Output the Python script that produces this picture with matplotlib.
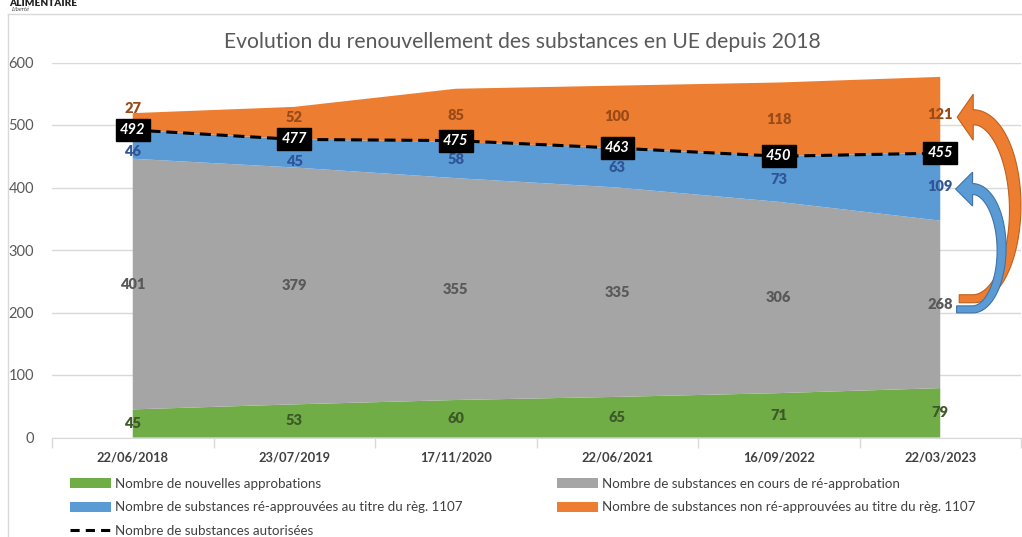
import numpy as np
import matplotlib
matplotlib.use('Agg')
import matplotlib.pyplot as plt
from matplotlib import font_manager
from matplotlib.patches import Patch, Polygon
from matplotlib.lines import Line2D
from matplotlib.transforms import IdentityTransform

# --- data -----------------------------------------------------------------
dates = ['22/06/2018', '23/07/2019', '17/11/2020', '22/06/2021', '16/09/2022', '22/03/2023']
nouvelles = [45, 53, 60, 65, 71, 79]
en_cours = [401, 379, 355, 335, 306, 268]
reapprouvees = [46, 45, 58, 63, 73, 109]
non_reapprouvees = [27, 52, 85, 100, 118, 121]
autorisees = [492, 477, 475, 463, 450, 455]

series_labels = ['Nombre de nouvelles approbations',
                 'Nombre de substances en cours de ré-approbation',
                 'Nombre de substances ré-approuvées au titre du règ. 1107',
                 'Nombre de substances non ré-approuvées au titre du règ. 1107']
line_label = 'Nombre de substances autorisées'
title = 'Evolution du renouvellement des substances en UE depuis 2018'

colors = ['#70ad47', '#a5a5a5', '#5b9bd5', '#ed7d31']
label_colors = ['#3d5a26', '#595959', '#2f5597', '#9a4a17']

# narrow Calibri-like face if there is one
installed = {f.name for f in font_manager.fontManager.ttflist}
main_font = next((f for f in ['Liberation Sans Narrow', 'Lato', 'Open Sans'] if f in installed), 'DejaVu Sans')
plt.rcParams['font.family'] = [main_font, 'DejaVu Sans']

W, H = 1022, 537
fig = plt.figure(figsize=(W / 100, H / 100), dpi=100)
ax = fig.add_axes([52 / W, 1 - 437.5 / H, 969 / W, 375 / H])

x = np.arange(len(dates))
layers = [nouvelles, en_cours, reapprouvees, non_reapprouvees]
ax.stackplot(x, *layers, colors=colors, linewidth=0, zorder=2)

ax.plot(x, autorisees, color='black', lw=2.2, dashes=(3.6, 1.9), zorder=4)

# value labels in the middle of each layer
bottom = np.zeros(len(x))
for k, vals in enumerate(layers):
    vals = np.array(vals, dtype=float)
    centers = bottom + vals / 2
    for i in range(len(x)):
        yc = centers[i]
        if k == 3 and yc - autorisees[i] < 30:
            yc = autorisees[i] + 35
        if k == 2 and autorisees[i] - yc < 30:
            yc = autorisees[i] - 35
        ax.text(x[i], yc, f'{int(vals[i])}', ha='center', va='center',
                fontsize=10.5, fontweight='heavy', color=label_colors[k], zorder=5)
    bottom += vals

for i in range(len(x)):
    ax.text(x[i], autorisees[i], f'{autorisees[i]}', ha='center', va='center',
            fontsize=10.5, fontweight='bold', fontstyle='italic', color='white', zorder=6,
            bbox=dict(facecolor='black', edgecolor='black', boxstyle='square,pad=0.28'))

# axes styling
ax.set_xlim(-0.5, len(x) - 0.5)
ax.set_ylim(0, 600)
ax.set_yticks(np.arange(0, 601, 100))
ax.tick_params(axis='y', length=0, pad=13, labelsize=10.5, labelcolor='#595959')
ax.set_xticks(np.arange(-0.5, len(x)), minor=False)
ax.set_xticklabels([])
ax.tick_params(axis='x', which='major', length=7, color='#d9d9d9', width=1)
ax.set_xticks(x, minor=True)
ax.set_xticklabels(dates, minor=True, fontsize=9.3, fontweight='bold', color='#404040')
ax.tick_params(axis='x', which='minor', length=0, pad=10)
ax.grid(axis='y', color='#d9d9d9', lw=1, zorder=0)
ax.set_axisbelow(True)
for s in ['top', 'right', 'left']:
    ax.spines[s].set_visible(False)
ax.spines['bottom'].set_color('#d9d9d9')
ax.spines['bottom'].set_zorder(1)

fig.text(522 / W, 1 - 42 / H, title, ha='center', va='center', fontsize=15.2, color='#595959')


# curved arrows (half ellipse body + wide head), built in pixel space
def curved_arrow(tip, tail_y, bulge, w0, w1, head_w, head_len, tail_ext, fc, ec, z):
    tx, ty = ax.transData.transform(tip)
    _, y0 = ax.transData.transform((0, tail_y))
    cx = tx + head_len
    cy = (ty + y0) / 2
    b = (ty - y0) / 2
    t = np.linspace(0, np.pi, 80)
    px = cx + bulge * np.sin(t)
    py = cy - b * np.cos(t)
    w = np.linspace(w0, w1, len(t))
    dx, dy = bulge * np.cos(t), b * np.sin(t)
    n = np.hypot(dx, dy)
    nx, ny = -dy / n, dx / n
    outer = np.c_[px - nx * w / 2, py - ny * w / 2]
    inner = np.c_[px + nx * w / 2, py + ny * w / 2]
    tail = np.array([[cx - tail_ext, y0 - w0 / 2], [cx - tail_ext, y0 + w0 / 2]])
    head = np.array([[cx, ty + head_w / 2], [tx, ty], [cx, ty - head_w / 2]])
    pts = np.vstack([tail[:1], outer, head, inner[::-1], tail[1:]])
    fig.add_artist(Polygon(pts, closed=True, transform=IdentityTransform(),
                           facecolor=fc, edgecolor=ec, lw=0.8, zorder=z))


last = x[-1]
gray_mid = nouvelles[-1] + en_cours[-1] / 2
blue_mid = nouvelles[-1] + en_cours[-1] + reapprouvees[-1] / 2
orange_mid = nouvelles[-1] + en_cours[-1] + reapprouvees[-1] + non_reapprouvees[-1] / 2
curved_arrow((last + 0.105, orange_mid - 4), gray_mid + 9, 42, 8, 15, 46, 16, 14,
             '#ed7d31', '#c0601c', 7)
curved_arrow((last + 0.095, blue_mid - 4), gray_mid - 8, 29, 7, 11, 34, 17, 16,
             '#5b9bd5', '#3f72a8', 8)

# legend
h = [Patch(facecolor=c, edgecolor='none') for c in colors]
hl = Line2D([], [], color='black', lw=2.2, dashes=(3, 2))
leg_kw = dict(frameon=False, fontsize=9.6, handlelength=3.1, handleheight=0.75,
              handletextpad=0.3, labelspacing=0.85, borderpad=0, borderaxespad=0,
              loc='upper left', labelcolor='#404040')
fig.legend([h[0], h[2], hl], [series_labels[0], series_labels[2], line_label],
           bbox_to_anchor=(70 / W, 1 - 478 / H), **leg_kw)
fig.legend([h[1], h[3]], [series_labels[1], series_labels[3]],
           bbox_to_anchor=(557 / W, 1 - 478 / H), **leg_kw)

# chart frame and cropped header
fig.add_artist(Line2D([8 / W, 8 / W], [0, 1 - 14 / H], color='#d9d9d9', lw=1))
fig.add_artist(Line2D([8 / W, 1], [1 - 14 / H, 1 - 14 / H], color='#d9d9d9', lw=1))
fig.text(9 / W, 1 - 3 / H, 'ALIMENTAIRE', fontsize=7.2, fontweight='heavy', color='#222222',
         va='center')
fig.text(11 / W, 1 - 9.5 / H, 'Liberté', fontsize=3.5, fontstyle='italic', color='#333333',
         va='center', family=['DejaVu Serif'])

fig.savefig('out.png', dpi=100)
